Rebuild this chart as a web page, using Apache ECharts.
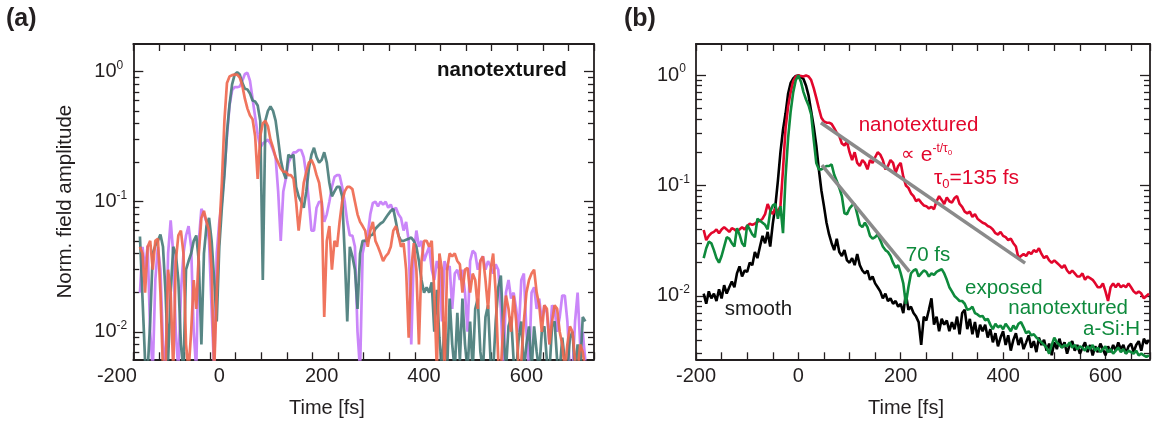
<!DOCTYPE html>
<html><head><meta charset="utf-8">
<script src="https://cdn.jsdelivr.net/npm/echarts@6/dist/echarts.min.js"></script>
<style>html,body{margin:0;padding:0;background:#fff}#c{width:1154px;height:423px}</style>
</head><body><div id="c"></div>
<script>
// ---------- Panel (a): time starts at -155 fs, 5 fs sampling ----------
const tealA = [
0.054,0.018,0.006,0.005,0.012,0.04,0.046,0.05,0.056,0.045,
0.02,0.006,0.02,0.045,0.04,0.025,0.008,0.005,0.03,0.035,
0.04,0.05,0.055,0.035,0.008,0.04,0.065,0.075,0.05,0.025,
0.012,0.045,0.09,0.16,0.34,0.56,0.8,0.95,0.99,0.95,
0.82,0.74,0.73,0.68,0.6,0.59,0.55,0.42,0.025,0.42,
0.5,0.54,0.5,0.42,0.3,0.21,0.17,0.15,0.23,0.22,
0.23,0.13,0.11,0.1,0.09,0.12,0.18,0.23,0.26,0.22,
0.2,0.21,0.24,0.2,0.14,0.11,0.12,0.13,0.13,0.11,
0.04,0.012,0.045,0.038,0.03,0.015,0.04,0.05,0.05,0.05,
0.055,0.056,0.062,0.065,0.068,0.07,0.075,0.08,0.085,0.088,
0.07,0.055,0.05,0.05,0.051,0.052,0.053,0.05,0.045,0.035,
0.025,0.02,0.022,0.02,0.024,0.01,0.021,0.009,0.005,0.012,
0.005,0.018,0.008,0.005,0.014,0.006,0.018,0.008,0.005,0.012,
0.005,0.015,0.018,0.007,0.005,0.013,0.016,0.006,0.005,0.012,
0.022,0.027,0.01,0.005,0.011,0.013,0.006,0.005,0.009,0.012,
0.005,0.008,0.011,0.005,0.011,0.007,0.005,0.01,0.011,0.006,
0.005,0.011,0.012,0.006,0.005,0.009,0.006,0.005,0.009,0.01,
0.005,0.008,0.005,0.013,0.012];
const purpleA = [
0.02,0.045,0.03,0.046,0.01,0.005,0.025,0.045,0.03,0.008,
0.005,0.04,0.072,0.04,0.01,0.005,0.02,0.04,0.055,0.065,
0.045,0.01,0.005,0.05,0.088,0.08,0.07,0.05,0.015,0.005,
0.04,0.07,0.1,0.17,0.32,0.55,0.72,0.76,0.76,0.77,
0.85,0.96,0.98,0.85,0.62,0.45,0.33,0.26,0.28,0.29,
0.3,0.28,0.25,0.22,0.12,0.05,0.12,0.15,0.2,0.22,
0.24,0.24,0.25,0.25,0.22,0.16,0.1,0.06,0.06,0.09,
0.1,0.1,0.07,0.08,0.1,0.13,0.155,0.16,0.16,0.13,
0.1,0.07,0.055,0.055,0.045,0.01,0.005,0.04,0.05,0.055,
0.08,0.098,0.1,0.092,0.1,0.095,0.1,0.09,0.095,0.085,
0.09,0.08,0.075,0.06,0.07,0.05,0.008,0.04,0.06,0.045,
0.05,0.035,0.04,0.045,0.03,0.025,0.035,0.03,0.012,0.035,
0.03,0.032,0.015,0.028,0.03,0.025,0.03,0.02,0.01,0.035,
0.042,0.04,0.03,0.035,0.038,0.03,0.035,0.032,0.028,0.033,
0.03,0.015,0.005,0.02,0.025,0.018,0.02,0.015,0.01,0.025,
0.028,0.01,0.005,0.02,0.022,0.015,0.018,0.012,0.016,0.014,
0.008,0.016,0.015,0.01,0.013,0.019,0.019,0.012,0.005,0.005,
0.012,0.02,0.008,0.01,0.006];
const orangeA = [
0.045,0.04,0.02,0.045,0.05,0.03,0.05,0.052,0.02,0.005,
0.005,0.03,0.02,0.005,0.035,0.055,0.06,0.04,0.008,0.005,
0.01,0.025,0.015,0.04,0.075,0.085,0.07,0.06,0.03,0.005,
0.02,0.06,0.14,0.42,0.82,0.92,0.94,0.95,0.95,0.9,
0.78,0.62,0.52,0.46,0.43,0.32,0.15,0.32,0.4,0.42,
0.38,0.3,0.26,0.22,0.2,0.18,0.17,0.17,0.16,0.16,
0.15,0.1,0.06,0.09,0.14,0.17,0.2,0.21,0.19,0.16,
0.14,0.1,0.013,0.05,0.065,0.03,0.05,0.045,0.07,0.1,
0.12,0.13,0.13,0.125,0.1,0.08,0.07,0.065,0.06,0.045,
0.06,0.07,0.05,0.045,0.04,0.035,0.038,0.04,0.045,0.06,
0.065,0.055,0.045,0.048,0.03,0.009,0.03,0.048,0.03,0.008,
0.035,0.05,0.05,0.045,0.05,0.02,0.005,0.04,0.03,0.005,
0.03,0.04,0.038,0.04,0.035,0.033,0.02,0.03,0.031,0.02,
0.028,0.025,0.015,0.035,0.038,0.025,0.015,0.03,0.04,0.02,
0.006,0.005,0.012,0.019,0.015,0.01,0.019,0.012,0.005,0.006,
0.012,0.02,0.025,0.028,0.03,0.02,0.016,0.01,0.016,0.015,
0.008,0.012,0.016,0.015,0.01,0.008,0.005,0.008,0.011,0.01,
0.006,0.005,0.008,0.007,0.005];

// ---------- Panel (b): time starts at -185 fs, 5 fs sampling ----------
const redB = [
0.0395,0.032,0.035,0.037,0.038,0.04,0.037,0.04,0.042,0.04,
0.038,0.041,0.04,0.038,0.04,0.042,0.04,0.043,0.045,0.044,
0.045,0.047,0.048,0.05,0.055,0.068,0.06,0.055,0.062,0.058,
0.065,0.14,0.33,0.52,0.7,0.88,0.97,0.99,0.98,0.97,
0.99,0.97,0.9,0.76,0.62,0.5,0.41,0.38,0.37,0.37,
0.36,0.33,0.3,0.28,0.24,0.23,0.25,0.2,0.17,0.2,
0.16,0.15,0.17,0.16,0.14,0.17,0.16,0.18,0.2,0.19,
0.17,0.14,0.15,0.17,0.16,0.13,0.15,0.16,0.12,0.1,
0.095,0.085,0.08,0.072,0.075,0.07,0.066,0.065,0.062,0.064,
0.061,0.072,0.08,0.074,0.068,0.078,0.072,0.07,0.077,0.08,
0.068,0.064,0.058,0.056,0.058,0.052,0.055,0.05,0.048,0.046,
0.045,0.043,0.042,0.04,0.037,0.036,0.038,0.035,0.034,0.032,
0.033,0.03,0.028,0.022,0.023,0.024,0.023,0.025,0.024,0.026,
0.025,0.027,0.024,0.022,0.023,0.021,0.02,0.021,0.02,0.019,
0.018,0.019,0.017,0.016,0.017,0.016,0.015,0.015,0.016,0.014,
0.015,0.0145,0.014,0.013,0.012,0.012,0.013,0.011,0.009,0.012,
0.013,0.012,0.013,0.012,0.0125,0.012,0.013,0.012,0.011,0.0105,
0.011,0.0105,0.0095,0.01,0.0105];
const greenB = [
0.022,0.027,0.031,0.03,0.026,0.022,0.02,0.023,0.028,0.034,
0.033,0.03,0.028,0.041,0.036,0.03,0.028,0.044,0.04,0.036,
0.034,0.05,0.048,0.046,0.044,0.04,0.058,0.066,0.068,0.05,
0.065,0.037,0.12,0.27,0.47,0.7,0.9,0.99,0.87,0.7,
0.6,0.53,0.44,0.26,0.16,0.14,0.14,0.145,0.15,0.15,
0.155,0.125,0.11,0.095,0.08,0.056,0.055,0.062,0.066,0.068,
0.055,0.044,0.042,0.046,0.042,0.035,0.033,0.034,0.036,0.032,
0.028,0.026,0.025,0.023,0.02,0.018,0.019,0.016,0.013,0.0085,
0.012,0.016,0.017,0.0175,0.015,0.016,0.017,0.0165,0.015,0.016,
0.0155,0.0165,0.017,0.0175,0.016,0.014,0.012,0.011,0.01,0.0095,
0.009,0.009,0.0085,0.0075,0.0076,0.008,0.007,0.0068,0.0065,0.0066,
0.006,0.0062,0.0055,0.005,0.0056,0.0052,0.0054,0.005,0.0056,0.0052,
0.0048,0.0054,0.005,0.0056,0.0058,0.0052,0.0046,0.0048,0.0044,0.0045,
0.0042,0.004,0.0038,0.0036,0.0034,0.003,0.0036,0.0042,0.0038,0.0036,
0.0034,0.0036,0.0035,0.0038,0.0034,0.0036,0.0033,0.0035,0.0034,0.0032,
0.0035,0.0033,0.0036,0.0032,0.0034,0.0031,0.0033,0.0035,0.0031,0.0033,
0.003,0.0032,0.0034,0.0031,0.0033,0.003,0.0032,0.0031,0.003,0.0032,
0.0029,0.003,0.0029,0.0028,0.0029];
const blackB = [
0.0105,0.0085,0.011,0.0095,0.0105,0.009,0.0115,0.0095,0.0125,0.0105,
0.012,0.0135,0.012,0.016,0.0185,0.015,0.017,0.0165,0.02,0.019,
0.025,0.022,0.028,0.035,0.03,0.038,0.028,0.045,0.065,0.11,
0.2,0.32,0.45,0.68,0.85,0.93,0.98,0.99,0.96,0.92,
0.8,0.65,0.47,0.34,0.23,0.14,0.09,0.065,0.046,0.036,
0.03,0.026,0.033,0.025,0.023,0.026,0.021,0.02,0.022,0.019,
0.024,0.019,0.017,0.016,0.017,0.014,0.015,0.013,0.012,0.011,
0.0095,0.0105,0.009,0.0095,0.0085,0.009,0.008,0.0085,0.007,0.0105,
0.0075,0.008,0.007,0.0065,0.0058,0.0036,0.0065,0.006,0.0075,0.0095,
0.0055,0.0065,0.0048,0.0062,0.0055,0.006,0.0048,0.0058,0.005,0.0065,
0.0045,0.007,0.0075,0.005,0.0062,0.0045,0.0058,0.0042,0.0055,0.0048,
0.0055,0.0042,0.005,0.0038,0.0046,0.0035,0.0042,0.0048,0.0036,0.0044,
0.0032,0.004,0.0046,0.0036,0.0042,0.0033,0.0038,0.0044,0.0034,0.0039,
0.0031,0.0042,0.0036,0.004,0.0032,0.0037,0.0029,0.0038,0.0033,0.0041,
0.0034,0.0038,0.003,0.0036,0.0039,0.0032,0.0036,0.003,0.0034,0.0038,
0.0031,0.0036,0.0029,0.0035,0.0031,0.0037,0.0033,0.0029,0.0035,0.0031,
0.0036,0.0032,0.0038,0.0033,0.0036,0.003,0.0035,0.0037,0.0031,0.0036,
0.0039,0.0032,0.0041,0.0037,0.004];
// exponential fits (gray lines)
const fitRedT = [44, 443];
const fitRedV = [0.37, 0.0198];
const fitGreenT = [46, 217];
const fitGreenV = [0.153, 0.0166];

// axis tick values / labels
const xLabelValues = [-200, 0, 200, 400, 600];
const xTicksA = [-168,-118,-68,-18,32,82,132,182,232,282,332,382,432,482,532,582,632,682,732];
const yMajor = [0.01, 0.1, 1];
const yMajorExp = ['-2', '-1', '0'];
const yMinorA = [0.007,0.008,0.009,0.02,0.03,0.04,0.05,0.06,0.07,0.08,0.09,0.2,0.3,0.4,0.5,0.6,0.7,0.8,0.9];
const yMinorB = [0.003,0.004,0.005,0.006,0.007,0.008,0.009,0.02,0.03,0.04,0.05,0.06,0.07,0.08,0.09,0.2,0.3,0.4,0.5,0.6,0.7,0.8,0.9];

const timeA = tealA.map((_, i) => -155 + 5 * i);
const timeB = redB.map((_, i) => -185 + 5 * i);
const pairs = (ts, vs) => ts.map((t, i) => [t, vs[i]]);

const FONT = 'Liberation Sans, Arial, Helvetica, sans-serif';
const INK = '#231f20';
const RED = '#e2062c', GREEN = '#0e8a3c', GRAY = '#8a8a8a';

function xFrame(grid, pos, min, max, extra) {
  return Object.assign({
    gridIndex: grid, type: 'value', position: pos, min: min, max: max,
    axisLine: { show: true, onZero: false, lineStyle: { color: INK, width: 1.8 } },
    axisTick: { show: true, inside: true, length: 7, lineStyle: { color: INK, width: 1.3 } },
    axisLabel: { show: false }, splitLine: { show: false }
  }, extra || {});
}
function yLog(grid, pos, min, max, ticks, len, showLine, extra) {
  return Object.assign({
    gridIndex: grid, type: 'log', logBase: 10, position: pos, offset: 0, min: min, max: max,
    axisLine: { show: showLine, onZero: false, lineStyle: { color: INK, width: 1.8 } },
    axisTick: { show: true, inside: true, length: len, customValues: ticks, lineStyle: { color: INK, width: 1.3 } },
    axisLabel: { show: false }, splitLine: { show: false }, minorTick: { show: false }
  }, extra || {});
}
const nearestExp = v => {
  let best = 0;
  yMajor.forEach((m, i) => { if (Math.abs(Math.log10(m) - Math.log10(v)) < Math.abs(Math.log10(yMajor[best]) - Math.log10(v))) best = i; });
  return yMajorExp[best];
};
const yLabel = {
  show: true, customValues: yMajor,
  margin: 39, align: 'left', fontSize: 20, color: INK, fontFamily: FONT,
  formatter: v => '10{sup|' + nearestExp(v) + '}',
  rich: { sup: { fontSize: 12, color: INK, fontFamily: FONT, padding: [0, 0, 12, 0] } }
};
const xLabel = () => ({
  show: true, customValues: xLabelValues, margin: 7,
  fontSize: 20, color: INK, fontFamily: FONT,
  formatter: v => (xLabelValues.indexOf(v) >= 0 ? String(v) : '')
});
const xName = (pad) => ({ fontSize: 20, color: INK, fontFamily: FONT, padding: [0, pad, 0, 0] });

const yMinA = 0.00614, yMaxA = 1.633, yMinB = 0.00267, yMaxB = 1.908;

const lineA = (name, vals, color) => ({
  type: 'line', name: name, xAxisIndex: 0, yAxisIndex: 0, data: pairs(timeA, vals),
  showSymbol: false, symbol: 'none', clip: true, silent: true,
  lineStyle: { color: color, width: 2.7, opacity: 0.92 }
});
const lineB = (name, ts, vals, color, w) => ({
  type: 'line', name: name, xAxisIndex: 3, yAxisIndex: 5, data: pairs(ts, vals),
  showSymbol: false, symbol: 'none', clip: true, silent: true,
  lineStyle: { color: color, width: w }
});
const lbl = (color, align, extra) => Object.assign({
  show: true, position: [0, 0], align: align, verticalAlign: 'middle',
  fontSize: 20.5, color: color, fontFamily: FONT
}, extra || {});

const option = {
  animation: false,
  textStyle: { fontFamily: FONT },
  title: [
    { text: '(a)', left: 6, top: 7, padding: 0, textStyle: { fontSize: 25, fontWeight: 'bold', color: INK, fontFamily: FONT } },
    { text: '(b)', left: 624, top: 7, padding: 0, textStyle: { fontSize: 25, fontWeight: 'bold', color: INK, fontFamily: FONT } }
  ],
  grid: [
    { left: 133.3, top: 44, width: 460.7, height: 315.3, outerBoundsMode: 'none' },
    { left: 116.9, top: 44, width: 477.1, height: 315.3, outerBoundsMode: 'none' },
    { left: 696, top: 44, width: 454, height: 315.3, outerBoundsMode: 'none' }
  ],
  xAxis: [
    xFrame(0, 'bottom', -168, 732, { axisTick: { show: true, inside: true, length: 7, customValues: xTicksA, lineStyle: { color: INK, width: 1.3 } } }),
    xFrame(0, 'top', -168, 732, { axisTick: { show: true, inside: true, length: 7, customValues: xTicksA, lineStyle: { color: INK, width: 1.3 } } }),
    { gridIndex: 1, type: 'value', position: 'bottom', min: -200, max: 732, interval: 200,
      axisLine: { show: false, onZero: false }, axisTick: { show: false }, splitLine: { show: false },
      axisLabel: xLabel(), name: 'Time [fs]', nameLocation: 'middle', nameGap: 39, nameTextStyle: xName(57) },
    xFrame(2, 'bottom', -200, 687, { interval: 50, axisLabel: xLabel(), name: 'Time [fs]', nameLocation: 'middle', nameGap: 39, nameTextStyle: xName(34) }),
    xFrame(2, 'top', -200, 687, { interval: 50 })
  ],
  yAxis: [
    yLog(0, 'left', yMinA, yMaxA, yMajor, 10, true, { axisLabel: yLabel, name: 'Norm. field amplitude', nameLocation: 'middle', nameGap: 57, nameTextStyle: { fontSize: 20.5, color: INK, fontFamily: FONT } }),
    yLog(0, 'left', yMinA, yMaxA, yMinorA, 6, false),
    yLog(0, 'right', yMinA, yMaxA, yMajor, 10, true),
    yLog(0, 'right', yMinA, yMaxA, yMinorA, 6, false),
    { gridIndex: 1, type: 'value', show: false },
    yLog(2, 'left', yMinB, yMaxB, yMajor, 10, true, { axisLabel: yLabel }),
    yLog(2, 'left', yMinB, yMaxB, yMinorB, 6, false),
    yLog(2, 'right', yMinB, yMaxB, yMajor, 10, true),
    yLog(2, 'right', yMinB, yMaxB, yMinorB, 6, false)
  ],
  series: [
    lineA('lavender', purpleA, '#c57cf8'),
    lineA('teal', tealA, '#4a7d7b'),
    lineA('orange', orangeA, '#ef6950'),
    { type: 'scatter', xAxisIndex: 0, yAxisIndex: 0, symbolSize: 0, silent: true, itemStyle: { opacity: 1 },
      data: [{ value: [679, 1.018], label: lbl('#111111', 'right', { formatter: 'nanotextured', fontWeight: 'bold' }) }] },
    lineB('smooth', timeB, blackB, '#000000', 2.6),
    lineB('nanotextured', timeB, redB, RED, 2.6),
    lineB('exposed nanotextured a-Si:H', timeB, greenB, GREEN, 2.6),
    lineB('fit 135 fs', fitRedT, fitRedV, GRAY, 3.5),
    lineB('fit 70 fs', fitGreenT, fitGreenV, GRAY, 3.5),
    { type: 'scatter', xAxisIndex: 3, yAxisIndex: 5, symbolSize: 0, silent: true, itemStyle: { opacity: 1 },
      data: [
        { value: [234.8, 0.353], label: lbl(RED, 'center', { formatter: 'nanotextured' }) },
        { value: [200.6, 0.189], label: lbl(RED, 'left', { formatter: '{p|∝} {e|e}{s|-t/τ}{z|0}',
            rich: { p: { fontSize: 19, color: RED }, e: { fontSize: 21, color: RED },
                    s: { fontSize: 12, color: RED, padding: [0, 0, 12, 0] }, z: { fontSize: 8, color: RED, padding: [0, 0, 4, 0] } } }) },
        { value: [265, 0.117], label: lbl(RED, 'left', { formatter: '{t|τ}{z|0}{n|=135 fs}',
            rich: { t: { fontSize: 21, color: RED }, z: { fontSize: 13, color: RED, padding: [13, 0, 0, 0] }, n: { fontSize: 21, color: RED } } }) },
        { value: [210, 0.0235], label: lbl(GREEN, 'left', { formatter: '70 fs' }) },
        { value: [325.6, 0.0118], label: lbl(GREEN, 'left', { formatter: 'exposed' }) },
        { value: [644, 0.00779], label: lbl(GREEN, 'right', { formatter: 'nanotextured' }) },
        { value: [667.4, 0.00503], label: lbl(GREEN, 'right', { formatter: 'a-Si:H' }) },
        { value: [-143.6, 0.00762], label: lbl('#1a1a1a', 'left', { formatter: 'smooth' }) }
      ] }
  ]
};
const chart = echarts.init(document.getElementById('c'), null, { renderer: 'canvas' });
chart.setOption(option);
</script></body></html>
